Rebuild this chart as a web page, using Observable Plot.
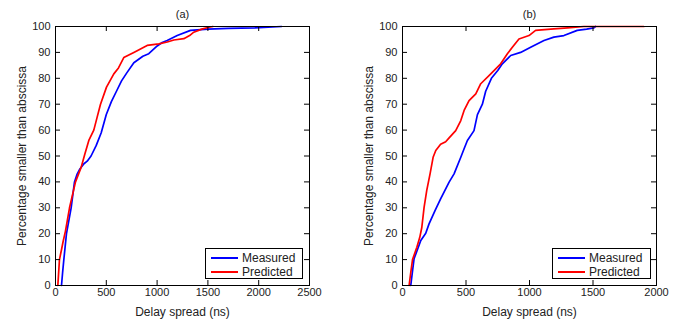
<!DOCTYPE html>
<html>
<head>
<meta charset="utf-8">
<script src="https://cdn.jsdelivr.net/npm/d3@7"></script>
<script src="https://cdn.jsdelivr.net/npm/@observablehq/plot@0.6"></script>
<style>
  html, body { margin: 0; padding: 0; background: #fff; }
  #wrap { position: relative; width: 685px; height: 322px; font-family: "Liberation Sans", Arial, sans-serif; }
  #wrap svg { position: absolute; top: 0; }
  .legend { position: absolute; background: #fff; border: 1px solid #000; box-sizing: border-box; }
  .legend .row { position: absolute; left: 0; height: 14px; display: flex; align-items: center; font-size: 12px; color: #222; }
  .legend .sw { width: 27px; height: 2px; margin-left: 5px; margin-right: 4px; }
</style>
</head>
<body>
<div id="wrap"></div>
<script>
// ---- data ----
const seriesNames = ["Measured", "Predicted"];
const seriesColors = ["#0000ff", "#ff0000"];
const xLabel = "Delay spread (ns)";
const yLabel = "Percentage smaller than abscissa";
const yTicks = [0, 10, 20, 30, 40, 50, 60, 70, 80, 90, 100];

// Panel (a)
const titleA = "(a)";
const xTicksA = [0, 500, 1000, 1500, 2000, 2500];
const aMeasuredNs  = [59, 70, 82, 108, 154, 187, 213, 240, 280, 312, 350, 400, 450, 500, 550, 600, 650, 700, 771, 860, 918, 1001, 1050, 1099, 1198, 1329, 1500, 1700, 1962, 2226];
const aMeasuredPct = [0, 5, 10, 20, 30, 40, 43, 45, 47, 48, 50, 54, 59, 66, 71, 75, 79, 82, 86, 88.5, 89.5, 92.5, 93.8, 94.6, 96.5, 98.5, 99, 99.3, 99.5, 100];
const aPredictedNs  = [23, 39, 60, 75, 98, 138, 197, 253, 289, 328, 377, 410, 443, 502, 574, 620, 672, 771, 902, 1017, 1100, 1165, 1263, 1320, 1361, 1440, 1509, 1550];
const aPredictedPct = [0, 10, 14, 17, 21, 30, 40, 45.7, 50.8, 56, 60, 65, 70, 76.6, 81.7, 84, 88, 90, 92.7, 93.3, 94, 94.8, 95.3, 96.5, 97.8, 99, 99.7, 100];

// Panel (b)
const titleB = "(b)";
const xTicksB = [0, 500, 1000, 1500, 2000];
const bMeasuredNs  = [65, 80, 91, 144, 183, 209, 257, 301, 367, 406, 459, 485, 511, 563, 590, 629, 655, 700, 750, 786, 852, 930, 1009, 1114, 1192, 1271, 1376, 1450, 1507, 1520];
const bMeasuredPct = [0, 6, 10.3, 17.4, 20.2, 23.8, 29, 33.5, 39.9, 43.1, 49.5, 52.8, 56, 59.8, 66, 70, 75, 80, 83, 85.6, 88.8, 90, 92, 94.6, 95.9, 96.5, 98.5, 99, 99.5, 100];
const bPredictedNs  = [52, 65, 79, 113, 136, 152, 170, 191, 217, 241, 262, 300, 340, 367, 419, 459, 485, 524, 577, 616, 695, 773, 826, 865, 917, 996, 1048, 1192, 1300, 1428, 1900];
const bPredictedPct = [0, 5, 10, 14.8, 18.6, 22.4, 30.2, 36.7, 43.1, 49.5, 52.1, 54.5, 55.5, 57, 59.8, 63.7, 67.6, 71.4, 74, 77.9, 81.7, 85.6, 89.5, 92, 95.2, 96.5, 98.5, 99.1, 99.5, 100, 100];

// ---- build ----
function series(ns, pct, name) { return ns.map((x, i) => ({x, y: pct[i], name})); }

function panel({title, xTicks, measured, predicted, width, marginLeft, marginRight}) {
  const height = 322, marginTop = 26, marginBottom = 37;
  const pw = width - marginLeft - marginRight, ph = height - marginTop - marginBottom;
  const tl = 5;
  const data = [...measured, ...predicted];
  return Plot.plot({
    width, height, marginLeft, marginRight, marginTop, marginBottom,
    style: {fontFamily: "'Liberation Sans', Arial, sans-serif", fontSize: "11px", color: "#222", background: "transparent"},
    x: {domain: [xTicks[0], xTicks[xTicks.length - 1]]},
    y: {domain: [0, 100]},
    color: {domain: seriesNames, range: seriesColors},
    marks: [
      Plot.line(data, {x: "x", y: "y", z: "name", stroke: "name", strokeWidth: 1.7}),
      Plot.frame({stroke: "#000", strokeWidth: 1}),
      Plot.tickX(xTicks, {x: d => d, insetTop: ph - tl, stroke: "#000"}),
      Plot.tickX(xTicks, {x: d => d, insetBottom: ph - tl, stroke: "#000"}),
      Plot.tickY(yTicks, {y: d => d, insetRight: pw - tl, stroke: "#000"}),
      Plot.tickY(yTicks, {y: d => d, insetLeft: pw - tl, stroke: "#000"}),
      Plot.axisX({ticks: xTicks, tickSize: 0, tickPadding: 3, tickFormat: d => String(d), label: null}),
      Plot.axisY({ticks: yTicks, tickSize: 0, tickPadding: 5, tickFormat: d => String(d), label: null}),
      Plot.text([xLabel], {frameAnchor: "bottom", dy: 27, lineAnchor: "middle", textAnchor: "middle", text: d => d, fontSize: 12}),
      Plot.text([yLabel], {frameAnchor: "left", dx: -33, rotate: -90, textAnchor: "middle", lineAnchor: "middle", text: d => d, fontSize: 12}),
      Plot.text([title], {frameAnchor: "top", dy: -12, lineAnchor: "middle", textAnchor: "middle", text: d => d, fontSize: 11})
    ]
  });
}

const wrap = document.getElementById("wrap");
const left = panel({title: titleA, xTicks: xTicksA,
  measured: series(aMeasuredNs, aMeasuredPct, seriesNames[0]),
  predicted: series(aPredictedNs, aPredictedPct, seriesNames[1]),
  width: 342, marginLeft: 55, marginRight: 33});
left.style.left = "0px";
const right = panel({title: titleB, xTicks: xTicksB,
  measured: series(bMeasuredNs, bMeasuredPct, seriesNames[0]),
  predicted: series(bPredictedNs, bPredictedPct, seriesNames[1]),
  width: 343, marginLeft: 60, marginRight: 29});
right.style.left = "342px";
wrap.appendChild(left);
wrap.appendChild(right);

function legend(x, y, w, h) {
  const box = document.createElement("div");
  box.className = "legend";
  Object.assign(box.style, {left: x + "px", top: y + "px", width: w + "px", height: h + "px"});
  seriesNames.forEach((name, i) => {
    const row = document.createElement("div");
    row.className = "row";
    row.style.top = (2 + i * 14) + "px";
    const sw = document.createElement("span");
    sw.className = "sw";
    sw.style.background = seriesColors[i];
    const t = document.createElement("span");
    t.textContent = name;
    row.appendChild(sw); row.appendChild(t);
    box.appendChild(row);
  });
  wrap.appendChild(box);
}
legend(205, 248, 98, 31);
legend(552, 248, 99, 31);
</script>
</body>
</html>
